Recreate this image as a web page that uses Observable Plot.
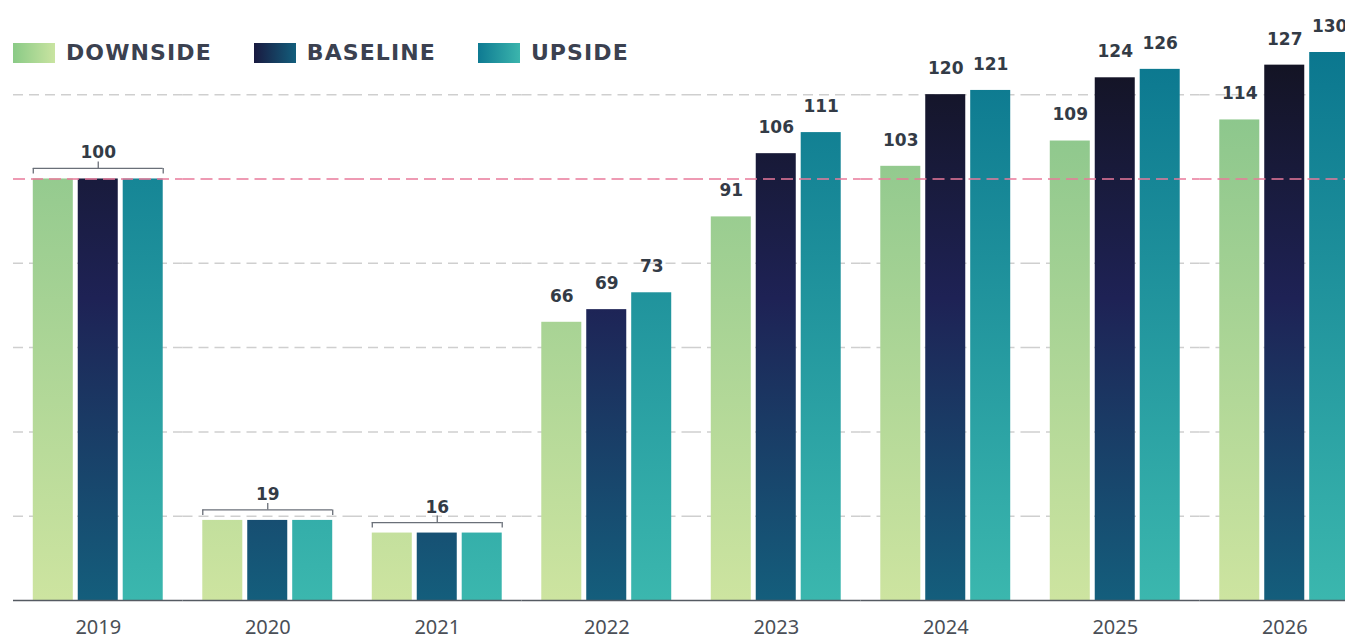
<!DOCTYPE html>
<html>
<head>
<meta charset="utf-8">
<script src="https://cdn.jsdelivr.net/npm/d3@7"></script>
<script src="https://cdn.jsdelivr.net/npm/@observablehq/plot@0.6"></script>
<style>
  html, body { margin: 0; padding: 0; background: #fff; overflow: hidden; }
  #wrap { position: relative; width: 1345px; height: 641px; overflow: hidden; }
  #chart { position: absolute; left: 0; top: 0; }
  #legend { position: absolute; left: 13px; top: 40px; display: flex; align-items: center; z-index: 2;
            font-family: "DejaVu Sans", sans-serif; font-weight: bold; font-size: 22px; letter-spacing: 1.1px; color: #3b4150; }
  .item { display: flex; align-items: center; margin-right: 42px; }
  .sw { width: 42px; height: 20px; margin-right: 11px; }
</style>
</head>
<body>
<div id="wrap">
  <div id="chart"></div>
  <div id="legend"></div>
</div>
<script>
// ---- data ----
const years = ["2019", "2020", "2021", "2022", "2023", "2024", "2025", "2026"];
const scenarios = ["DOWNSIDE", "BASELINE", "UPSIDE"];
const downside = [100, 19, 16, 66, 91, 103, 109, 114];
const baseline = [100, 19, 16, 69, 106, 120, 124, 127];
const upside   = [100, 19, 16, 73, 111, 121, 126, 130];
const bracketYears = ["2019", "2020", "2021"];
const gridValues = [20, 40, 60, 80, 120];
const referenceValue = 100;
const yDomain = [0, 130];

// colours (vertical gradients: top -> bottom)
const gradients = {
  DOWNSIDE: [["0%", "#84c38a"], ["100%", "#cde4a0"]],
  BASELINE: [["0%", "#131322"], ["45%", "#1e2255"], ["100%", "#145e7c"]],
  UPSIDE:   [["0%", "#0b778f"], ["100%", "#3bb7ae"]]
};
const legendGradients = {
  DOWNSIDE: "linear-gradient(to right, #8aca86, #c9e4a1)",
  BASELINE: "linear-gradient(to right, #191a40, #135e7c)",
  UPSIDE:   "linear-gradient(to right, #0e7a92, #3bb5ad)"
};

const rows = years.flatMap((year, i) => [
  {year, scenario: "DOWNSIDE", value: downside[i]},
  {year, scenario: "BASELINE", value: baseline[i]},
  {year, scenario: "UPSIDE",   value: upside[i]}
]);

const isBracket = d => bracketYears.includes(d.year);
const labelStyle = {fontFamily: "DejaVu Sans, sans-serif", fontWeight: "bold", fontSize: 17, fill: "#333b46"};
const bracketStroke = {stroke: "#6a6f78", strokeWidth: 1.3};

function build(geo) {
  const {bw, pad, upp} = geo;
  return Plot.plot({
    width: 1345,
    height: 641,
    marginTop: 52,
    marginBottom: 41,
    marginLeft: 13,
    marginRight: -24,
    style: {background: "transparent", fontFamily: "'Noto Sans', sans-serif", fontSize: "20px", color: "#4a4f57", overflow: "visible"},
    facet: {data: rows, x: "year"},
    fx: {domain: years, padding: 0, round: false, label: null, tickSize: 0, tickPadding: 19, axis: "bottom"},
    x: {domain: scenarios, paddingInner: 0.11, paddingOuter: 0.44, round: false, axis: null},
    y: {domain: yDomain, axis: null},
    marks: [
      Plot.ruleY(gridValues, {stroke: "#cfcfcf", strokeWidth: 1.5, strokeDasharray: "10,6"}),
      ...scenarios.map(s => Plot.barY(rows, {filter: d => d.scenario === s, x: "scenario", y: "value", fill: `url(#grad-${s})`})),
      Plot.ruleY([referenceValue], {stroke: "#e9799b", strokeWidth: 1.5, strokeDasharray: "12,6"}),
      Plot.ruleY([0], {stroke: "#555a62", strokeWidth: 1.5}),
      // value labels
      Plot.text(rows, {filter: d => !isBracket(d), x: "scenario", y: "value", text: d => String(d.value), dy: -26, lineAnchor: "middle", ...labelStyle}),
      // brackets for years where all scenarios are equal
      Plot.ruleY(rows, {filter: d => isBracket(d) && d.scenario === "BASELINE", y: d => d.value + 10.5 * upp, insetLeft: pad, insetRight: pad, ...bracketStroke}),
      Plot.ruleX(rows, {filter: d => isBracket(d) && d.scenario === "DOWNSIDE", x: "scenario", y1: d => d.value + 5 * upp, y2: d => d.value + 10.5 * upp, dx: -bw / 2, ...bracketStroke}),
      Plot.ruleX(rows, {filter: d => isBracket(d) && d.scenario === "UPSIDE", x: "scenario", y1: d => d.value + 5 * upp, y2: d => d.value + 10.5 * upp, dx: bw / 2, ...bracketStroke}),
      Plot.ruleX(rows, {filter: d => isBracket(d) && d.scenario === "BASELINE", x: "scenario", y1: d => d.value + 10.5 * upp, y2: d => d.value + 17 * upp, ...bracketStroke}),
      Plot.text(rows, {filter: d => isBracket(d) && d.scenario === "BASELINE", x: "scenario", y: "value", text: d => String(d.value), dy: -26, lineAnchor: "middle", ...labelStyle})
    ]
  });
}

// first pass: read the scales to get pixel geometry
const probe = build({bw: 0, pad: 0, upp: 0});
const xs = probe.scale("x");
const ys = probe.scale("y");
const upp = (ys.domain[1] - ys.domain[0]) / Math.abs(ys.range[0] - ys.range[1]);
const R = Math.abs(xs.range[1] - xs.range[0]);
const pi = xs.paddingInner ?? 0.11, po = xs.paddingOuter ?? 0.44;
const step = xs.step ?? R / (scenarios.length - pi + 2 * po);
const bw = xs.bandwidth ?? step * (1 - pi);
const pad = (R - 2 * step - bw) / 2;

const plot = build({bw, pad, upp});

// gradients in user space along the y scale
const yAt = v => ys.range[0] + (v - ys.domain[0]) / (ys.domain[1] - ys.domain[0]) * (ys.range[1] - ys.range[0]);
const defs = d3.select(plot).insert("defs", ":first-child");
for (const s of scenarios) {
  const g = defs.append("linearGradient").attr("id", `grad-${s}`)
    .attr("gradientUnits", "userSpaceOnUse")
    .attr("x1", 0).attr("x2", 0).attr("y1", yAt(yDomain[1])).attr("y2", yAt(0));
  for (const [o, c] of gradients[s]) g.append("stop").attr("offset", o).attr("stop-color", c);
}
document.getElementById("chart").append(plot);

// legend
const legend = document.getElementById("legend");
for (const s of scenarios) {
  const item = document.createElement("div");
  item.className = "item";
  const sw = document.createElement("div");
  sw.className = "sw";
  sw.style.background = legendGradients[s];
  const t = document.createElement("span");
  t.textContent = s;
  item.append(sw, t);
  legend.append(item);
}
</script>
</body>
</html>
